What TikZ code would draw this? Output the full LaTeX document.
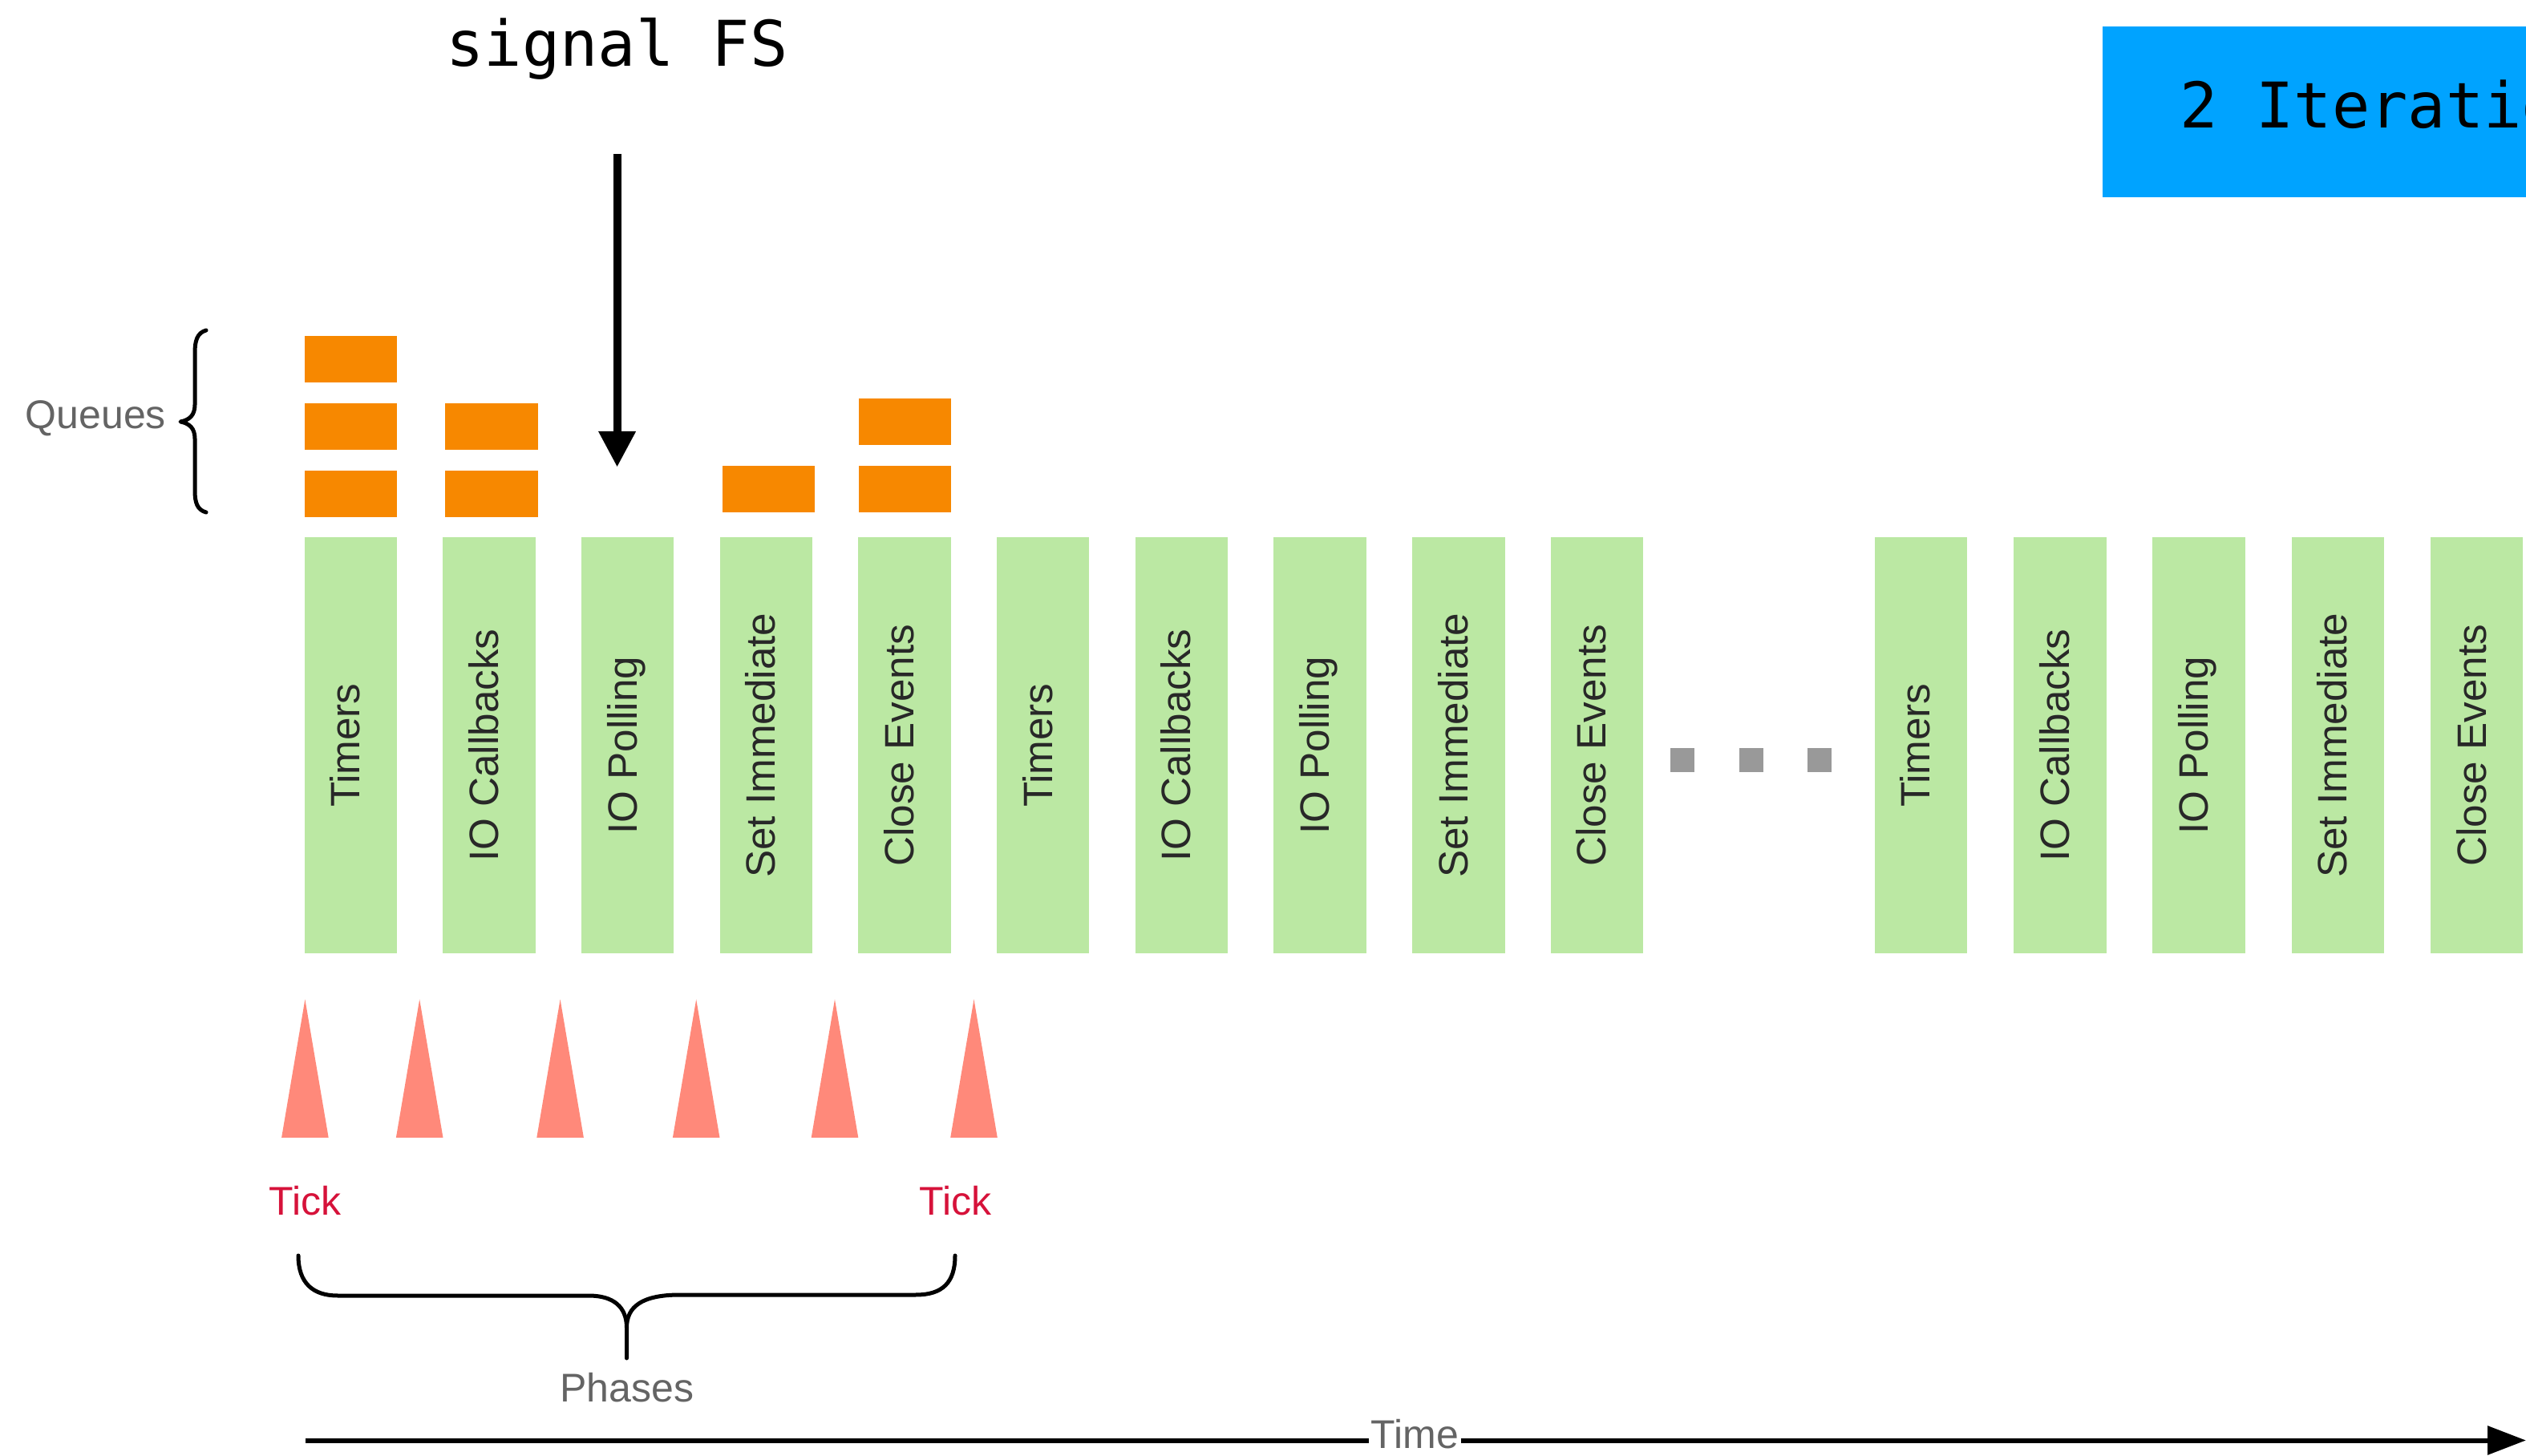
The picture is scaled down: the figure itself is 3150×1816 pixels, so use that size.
\documentclass[tikz,border=0pt]{standalone}
\usepackage{fontspec}
\setmainfont{Liberation Sans}
\newfontfamily\codefont{DejaVu Sans Mono}
\usetikzlibrary{arrows.meta}

\definecolor{phasegreen}{RGB}{187,232,163}
\definecolor{queueorange}{RGB}{247,136,0}
\definecolor{tickred}{RGB}{214,18,58}
\definecolor{ticksalmon}{RGB}{255,137,122}
\definecolor{iterblue}{RGB}{0,163,255}
\definecolor{labelgray}{RGB}{100,100,100}
\definecolor{phasetext}{RGB}{40,40,40}
\definecolor{dotgray}{RGB}{153,153,153}

\begin{document}
\begin{tikzpicture}[x=0.25pt,y=-0.25pt,
  phasebox/.style={fill=phasegreen, draw=none, inner sep=0,
    minimum width=28.85pt, minimum height=129.65pt, anchor=north west},
  phaselabel/.style={rotate=90, inner sep=0, text=phasetext,
    font=\fontsize{12.8pt}{15pt}\selectfont, text height=9.2pt, text depth=0pt},
  queuebox/.style={fill=queueorange, draw=none, inner sep=0,
    minimum width=28.85pt, minimum height=14.4pt, anchor=north west},
  gapdot/.style={fill=dotgray, draw=none, inner sep=0, minimum size=7.5pt},
  graylabel/.style={text=labelgray, inner sep=0, font=\fontsize{12.5pt}{15pt}\selectfont},
  ticklabel/.style={text=tickred, inner sep=0, anchor=base, font=\fontsize{12.5pt}{15pt}\selectfont},
  codelabel/.style={inner sep=0, font=\codefont\fontsize{19.65pt}{23pt}\selectfont},
  brace/.style={line width=1.25pt, line cap=round, line join=round},
  tickmark/.style={fill=ticksalmon, draw=none}
]
\useasboundingbox (0,0) rectangle (3150,1816);
\clip (0,0) rectangle (3150,1816);

% iteration banner in the top right corner
\node[fill=iterblue, draw=none, inner sep=0, minimum width=150pt, minimum height=53.2pt,
      anchor=north west] (iter) at (2621,32) {};
\node[codelabel, anchor=base west] (itertext) at (2718,160) {2 Iterations};

% signal arriving during the polling phase
\node[codelabel, anchor=base] (sig) at (769.6,82.6) {signal FS};
\coordinate (sigstart) at (769.6,192);
\coordinate (sigend) at (769.6,582.6);
\draw[line width=2.5pt, -{Triangle[length=11.15pt,width=11pt]}] (sigstart) -- (sigend);

% first loop iteration
\foreach \i/\x/\t in {1/378.7/Timers, 2/551.4/IO Callbacks, 3/724.1/IO Polling,
    4/896.8/Set Immediate, 5/1069.5/Close Events, 6/1242.2/Timers,
    7/1414.9/IO Callbacks, 8/1587.6/IO Polling, 9/1760.3/Set Immediate,
    10/1933/Close Events, 11/2337/Timers, 12/2510.3/IO Callbacks,
    13/2683.6/IO Polling, 14/2856.9/Set Immediate, 15/3030.2/Close Events}
{
  \node[phasebox] (p\i) at (\x,669.6) {};
  \node[phaselabel] (l\i) at ([xshift=-1.75pt]p\i.center) {\t};
}

% gap between iterations
\node[gapdot] (d1) at (2098,948) {};
\node[gapdot] (d2) at (2184,948) {};
\node[gapdot] (d3) at (2269,948) {};

% pending callbacks per queue
\node[queuebox] (q1a) at (378.7,418.7) {};
\node[queuebox] (q1b) at (378.7,502.2) {};
\node[queuebox] (q1c) at (378.7,586.2) {};
\node[queuebox] (q2a) at (554.4,502.2) {};
\node[queuebox] (q2b) at (554.4,586.2) {};
\node[queuebox] (q4a) at (900,580.4) {};
\node[queuebox] (q5a) at (1070,496.4) {};
\node[queuebox] (q5b) at (1070,580.4) {};

% queues brace and label
\node[graylabel, anchor=base west] (queues) at (31,535) {Queues};
\draw[brace] (257,412) .. controls (246,415) and (243,425) .. (243,440)
  -- (243,505) .. controls (243,518) and (236,524) .. (225,526)
  .. controls (236,528) and (243,534) .. (243,547)
  -- (243,612) .. controls (243,627) and (246,636) .. (257,639);

% ticks between phases
\foreach \x in {380.4, 523.2, 698.6, 868.2, 1041, 1214.5}
  \fill[tickmark] (\x,1246.4) -- (\x-29.3,1419) -- (\x+29.3,1419) -- cycle;

\node[ticklabel] (tick1) at (380.7,1515.5) {Tick};
\node[ticklabel] (tick2) at (1191.8,1515.5) {Tick};

% phases brace and label
\draw[brace] (372,1566) .. controls (372,1600) and (390,1616) .. (421,1616)
  -- (734,1616) .. controls (765,1616) and (781.5,1630) .. (781.5,1656) -- (781.5,1694);
\draw[brace] (781.5,1656) .. controls (781.5,1630) and (800,1615) .. (848,1615)
  -- (1142,1615) .. controls (1175,1615) and (1191,1600) .. (1191,1566);
\node[graylabel, anchor=base] (phases) at (782,1748) {Phases};

% time axis
\coordinate (tstart) at (381,1796.5);
\coordinate (tend) at (3150,1796.5);
\node[graylabel, anchor=base, inner xsep=0.4pt] (time) at (1764.5,1806.7) {Time};
\draw[line width=1.5pt] (tstart) -- (tstart -| time.west);
\draw[line width=1.5pt, -{Triangle[length=12pt,width=8.75pt]}] (tstart -| time.east) -- (tend);
\end{tikzpicture}
\end{document}
